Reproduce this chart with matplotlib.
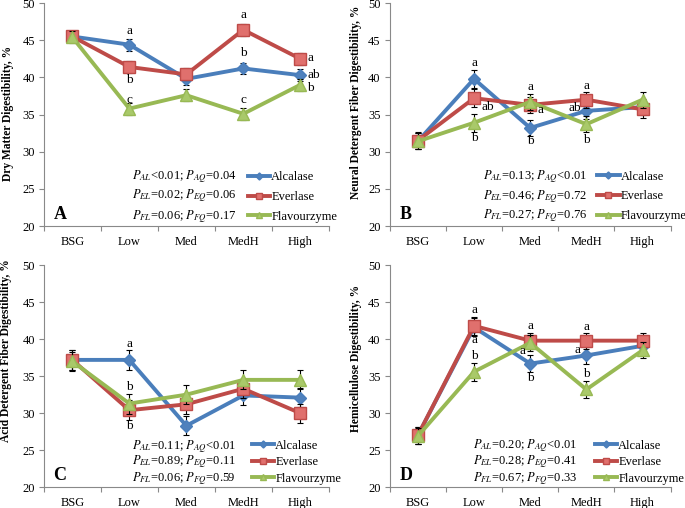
import matplotlib
matplotlib.use("Agg")
import matplotlib.pyplot as plt

plt.rcParams['font.family'] = ['Liberation Serif', 'DejaVu Serif']
plt.rcParams['mathtext.fontset'] = 'stix'

categories = ["BSG", "Low", "Med", "MedH", "High"]
series_names = ["Alcalase", "Everlase", "Flavourzyme"]

# Panel A: Dry matter digestibility
dm_alcalase = [45.5, 44.4, 39.8, 41.2, 40.3]
dm_everlase = [45.5, 41.4, 40.4, 46.4, 42.5]
dm_flavour = [45.4, 35.8, 37.6, 35.1, 39.0]
dm_err = [0.8, 0.8, 0.8, 0.8, 0.8]

# Panel B: Neutral detergent fiber digestibility
ndf_alcalase = [31.4, 39.8, 33.2, 35.5, 36.0]
ndf_everlase = [31.5, 37.2, 36.3, 37.0, 35.7]
ndf_flavour = [31.4, 33.9, 36.7, 33.7, 37.0]
ndf_err = [1.1, 1.2, 1.1, 1.1, 1.1]

# Panel C: Acid detergent fiber digestibility
adf_alcalase = [37.2, 37.2, 28.3, 32.4, 32.1]
adf_everlase = [37.2, 30.4, 31.2, 33.3, 30.0]
adf_flavour = [37.0, 31.3, 32.5, 34.5, 34.5]
adf_err = [1.3, 1.35, 1.3, 1.3, 1.3]

# Panel D: Hemicellulose digestibility
hem_alcalase = [27.0, 41.6, 36.7, 37.8, 39.1]
hem_everlase = [27.0, 41.8, 39.8, 39.8, 39.8]
hem_flavour = [26.9, 35.6, 39.5, 33.2, 38.5]
hem_err = [1.1, 1.2, 1.1, 1.1, 1.1]

p_texts_A = [r"$P_{AL}$<0.01; $P_{AQ}$=0.04", r"$P_{EL}$=0.02; $P_{EQ}$=0.06", r"$P_{FL}$=0.06; $P_{FQ}$=0.17"]
p_texts_B = [r"$P_{AL}$=0.13; $P_{AQ}$<0.01", r"$P_{EL}$=0.46; $P_{EQ}$=0.72", r"$P_{FL}$=0.27; $P_{FQ}$=0.76"]
p_texts_C = [r"$P_{AL}$=0.11; $P_{AQ}$<0.01", r"$P_{EL}$=0.89; $P_{EQ}$=0.11", r"$P_{FL}$=0.06; $P_{FQ}$=0.59"]
p_texts_D = [r"$P_{AL}$=0.20; $P_{AQ}$<0.01", r"$P_{EL}$=0.28; $P_{EQ}$=0.41", r"$P_{FL}$=0.67; $P_{FQ}$=0.33"]

# letters: (category position, value, text, horizontal alignment)
letters_A = [(1, 46.2, "a", "center"), (1, 39.7, "b", "center"), (1, 36.9, "c", "center"),
             (3, 48.4, "a", "center"), (3, 43.3, "b", "center"), (3, 37.0, "c", "center"),
             (4.12, 42.6, "a", "left"), (4.12, 40.3, "ab", "left"), (4.12, 38.6, "b", "left")]
letters_B = [(1, 41.9, "a", "center"), (1.14, 36.0, "ab", "left"), (1, 31.9, "b", "center"),
             (2, 38.7, "a", "center"), (2.13, 35.6, "a", "left"), (2, 31.4, "b", "center"),
             (3, 38.9, "a", "center"), (2.9, 35.9, "ab", "right"), (3, 31.6, "b", "center")]
letters_C = [(1, 39.3, "a", "center"), (1, 33.6, "b", "center"), (1, 28.2, "b", "center")]
letters_D = [(1, 44.0, "a", "center"), (1, 39.85, "a", "center"), (1, 37.7, "b", "center"),
             (2, 41.75, "a", "center"), (1.92, 38.4, "a", "right"), (2, 34.7, "b", "center"),
             (3, 41.65, "a", "center"), (2.9, 38.6, "a", "right"), (3, 35.25, "b", "center")]

line_colors = ["#4A7EBB", "#BE4B48", "#98B954"]
face_colors = ["#4F81BD", "#E0706D", "#A9C96A"]
markers = ["D", "s", "^"]
msizes = [6.5, 9, 8.5]

fig = plt.figure(figsize=(6.85, 5.08), dpi=100)

panels = [
    dict(rect=[0.064, 0.555, 0.416, 0.439], data=[dm_alcalase, dm_everlase, dm_flavour], err=dm_err,
         ylabel="Dry Matter Digestibility, %", label="A", ptexts=p_texts_A, pys=[26.6, 24.1, 21.3], px=1.05,
         letters=letters_A, leg_x=0.716, leg_y=0.13, leg_sp=0.62, ylab=(0.011, 0.776)),
    dict(rect=[0.569, 0.555, 0.410, 0.439], data=[ndf_alcalase, ndf_everlase, ndf_flavour], err=ndf_err,
         ylabel="Neural Detergent Fiber Digestibility, %", label="B", ptexts=p_texts_B, pys=[26.6, 24.0, 21.35], px=1.16,
         letters=letters_B, leg_x=0.738, leg_y=0.133, leg_sp=0.62, ylab=(0.519, 0.799)),
    dict(rect=[0.064, 0.041, 0.416, 0.437], data=[adf_alcalase, adf_everlase, adf_flavour], err=adf_err,
         ylabel="Acid Detergent Fiber Digestibility, %", label="C", ptexts=p_texts_C, pys=[25.5, 23.4, 21.1], px=1.04,
         letters=letters_C, leg_x=0.73, leg_y=0.113, leg_sp=0.36, ylab=(0.009, 0.309)),
    dict(rect=[0.569, 0.041, 0.410, 0.437], data=[hem_alcalase, hem_everlase, hem_flavour], err=hem_err,
         ylabel="Hemicellulose Digestibility, %", label="D", ptexts=p_texts_D, pys=[25.6, 23.4, 21.1], px=0.99,
         letters=letters_D, leg_x=0.73, leg_y=0.113, leg_sp=0.36, ylab=(0.519, 0.294)),
]

x = list(range(len(categories)))
for p in panels:
    ax = fig.add_axes(p["rect"])
    for i, vals in enumerate(p["data"]):
        ax.errorbar(x, vals, yerr=p["err"], fmt="none", ecolor="black", elinewidth=0.8,
                    capsize=2.5, capthick=0.8, zorder=2 + i)
        ax.plot(x, vals, color=line_colors[i], lw=2.8, marker=markers[i], ms=msizes[i],
                mfc=face_colors[i], mec=line_colors[i], mew=1.0, label=series_names[i],
                zorder=3 + i, clip_on=False)
    ax.set_xlim(-0.5, 4.5)
    ax.set_ylim(20, 50)
    ax.set_yticks(range(20, 51, 5))
    ax.set_xticks(x)
    ax.set_xticklabels(categories)
    ax.set_xticks([v - 0.5 for v in range(len(categories) + 1)], minor=True)
    ax.tick_params(axis="x", which="major", length=0, pad=7, labelsize=9)
    ax.tick_params(axis="x", which="minor", length=3.5, direction="out", color="#898989", width=0.8)
    ax.tick_params(axis="y", which="major", length=3.5, direction="out", color="#898989", width=0.8,
                   pad=3, labelsize=9)
    for s in ["top", "right"]:
        ax.spines[s].set_visible(False)
    for s in ["left", "bottom"]:
        ax.spines[s].set_color("#898989")
        ax.spines[s].set_linewidth(0.8)
    fig.text(p["ylab"][0], p["ylab"][1], p["ylabel"], rotation=90,
             fontsize=8.3, fontweight="bold", ha="center", va="center")
    for t, yv in zip(p["ptexts"], p["pys"]):
        ax.text(p["px"], yv, t, fontsize=9, ha="left", va="center")
    for (cx, cy, txt, ha) in p["letters"]:
        ax.text(cx, cy, txt, fontsize=9.5, ha=ha, va="center", zorder=10)
    ax.text(-0.33, 21.6, p["label"], fontsize=13, fontweight="bold", ha="left", va="center")
    ax.legend(loc="center left", bbox_to_anchor=(p["leg_x"], p["leg_y"]), frameon=False,
              fontsize=9, borderpad=0, borderaxespad=0, handlelength=1.8, handletextpad=0.08,
              labelspacing=p["leg_sp"], numpoints=1, markerscale=0.55)

fig.savefig("out.png", dpi=100)
